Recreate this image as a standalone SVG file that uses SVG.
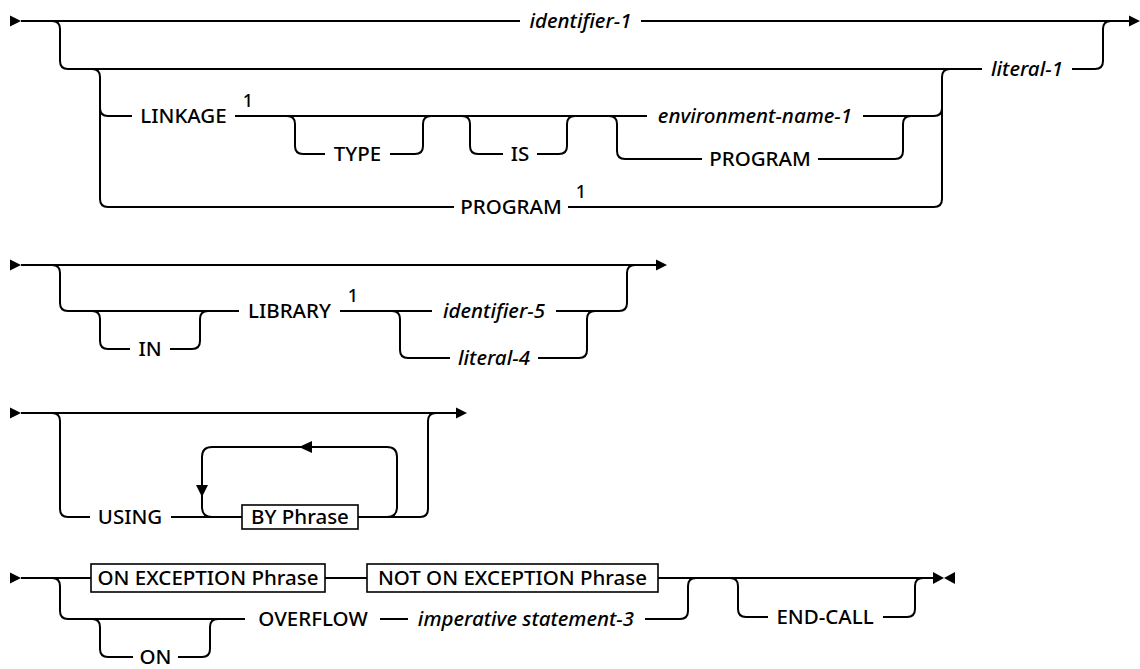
<svg xmlns="http://www.w3.org/2000/svg" width="1140" height="669" viewBox="0 0 1140 669">
<style>
.c{fill:none;stroke:#000;stroke-width:2}
.b{fill:#fff;stroke:#000;stroke-width:1.6}
.a{fill:#000;stroke:none}
text{font-family:"Noto Sans","Liberation Sans",sans-serif;font-size:20.5px;font-weight:500;fill:#000;text-anchor:middle}
.i{font-style:italic}
.s{font-size:18px}
</style>
<rect width="1140" height="669" fill="#fff"/>
<g id="connectors">
<!-- row 1 -->
<polygon class="a" points="10,15.5 21,21 10,26.5"/>
<path class="c" d="M21,21 H520 M641,21 H1130"/>
<polygon class="a" points="1129,15.5 1140,21 1129,26.5"/>
<path class="c" d="M52,21 Q60,21 60,29 V61 Q60,69 68,69 H982 M1072,69 H1095 Q1103,69 1103,61 V29 Q1103,21 1111,21"/>
<path class="c" d="M92,69 Q100,69 100,77 V199 Q100,207 108,207 H454 M568,207 H934 Q942,207 942,199 V77 Q942,69 950,69"/>
<path class="c" d="M100,108 Q100,116 108,116 H132 M235,116 H647 M863,116 H934 Q942,116 942,108"/>
<path class="c" d="M287,116 Q295,116 295,124 V146 Q295,154 303,154 H325 M390,154 H415 Q423,154 423,146 V124 Q423,116 431,116"/>
<path class="c" d="M462,116 Q470,116 470,124 V146 Q470,154 478,154 H503 M537,154 H559 Q567,154 567,146 V124 Q567,116 575,116"/>
<path class="c" d="M609,116 Q617,116 617,124 V151 Q617,159 625,159 H702 M818,159 H895 Q903,159 903,151 V124 Q903,116 911,116"/>
<!-- row 2 -->
<polygon class="a" points="10,259.5 21,265 10,270.5"/>
<path class="c" d="M21,265 H656"/>
<polygon class="a" points="656,259.5 667,265 656,270.5"/>
<path class="c" d="M52,265 Q60,265 60,273 V303 Q60,311 68,311 H239 M340,311 H432 M556,311 H619 Q627,311 627,303 V273 Q627,265 635,265"/>
<path class="c" d="M92,311 Q100,311 100,319 V341 Q100,349 108,349 H130 M170,349 H192 Q200,349 200,341 V319 Q200,311 208,311"/>
<path class="c" d="M392,311 Q400,311 400,319 V350 Q400,358 408,358 H450 M538,358 H579 Q587,358 587,350 V319 Q587,311 595,311"/>
<!-- row 3 -->
<polygon class="a" points="10,407.5 21,413 10,418.5"/>
<path class="c" d="M21,413 H456"/>
<polygon class="a" points="456,407.5 467,413 456,418.5"/>
<path class="c" d="M52,413 Q60,413 60,421 V509 Q60,517 68,517 H90 M171,517 H242 M358,517 H420 Q428,517 428,509 V421 Q428,413 436,413"/>
<path class="c" d="M387,517 Q397,517 397,507 V457 Q397,447 387,447 H212 Q202,447 202,457 V507 Q202,517 212,517"/>
<polygon class="a" points="312,441 312,453 299,447"/>
<polygon class="a" points="196,485 208,485 202,497"/>
<!-- row 4 -->
<polygon class="a" points="10,572.5 21,578 10,583.5"/>
<path class="c" d="M21,578 H91 M325,578 H367 M658,578 H933"/>
<polygon class="a" points="933,572 944,578 933,584"/>
<polygon class="a" points="955,572 944,578 955,584"/>
<path class="c" d="M52,578 Q60,578 60,586 V611 Q60,619 68,619 H245 M380,619 H408 M645,619 H680 Q688,619 688,611 V586 Q688,578 696,578"/>
<path class="c" d="M92,619 Q100,619 100,627 V649 Q100,657 108,657 H133 M178,657 H202 Q210,657 210,649 V627 Q210,619 218,619"/>
<path class="c" d="M730,578 Q738,578 738,586 V609 Q738,617 746,617 H768 M883,617 H907 Q915,617 915,609 V586 Q915,578 923,578"/>
</g>
<g id="identifier-1"><text class="i" x="580.5" y="28">identifier-1</text></g>
<g id="literal-1"><text class="i" x="1027" y="76">literal-1</text></g>
<g id="linkage"><text x="183.5" y="123">LINKAGE</text><text class="s" x="248" y="107">1</text></g>
<g id="type"><text x="357.5" y="161">TYPE</text></g>
<g id="is"><text x="520" y="161">IS</text></g>
<g id="environment-name-1"><text class="i" x="755" y="123">environment-name-1</text></g>
<g id="program-alt"><text x="760" y="166">PROGRAM</text></g>
<g id="program"><text x="511" y="214">PROGRAM</text><text class="s" x="581" y="198">1</text></g>
<g id="in"><text x="150" y="356">IN</text></g>
<g id="library"><text x="289.5" y="318">LIBRARY</text><text class="s" x="353" y="302">1</text></g>
<g id="identifier-5"><text class="i" x="494" y="318">identifier-5</text></g>
<g id="literal-4"><text class="i" x="494" y="365">literal-4</text></g>
<g id="using"><text x="130" y="524">USING</text></g>
<g id="by-phrase"><rect class="b" x="242" y="505" width="116" height="24"/><text x="300" y="524">BY Phrase</text></g>
<g id="on-exception"><rect class="b" x="91" y="564" width="234" height="28"/><text x="208" y="585">ON EXCEPTION Phrase</text></g>
<g id="not-on-exception"><rect class="b" x="367" y="564" width="291" height="28"/><text x="512.5" y="585">NOT ON EXCEPTION Phrase</text></g>
<g id="overflow"><text x="313" y="626">OVERFLOW</text></g>
<g id="imperative"><text class="i" x="526" y="626">imperative statement-3</text></g>
<g id="on"><text x="155.5" y="664">ON</text></g>
<g id="end-call"><text x="825" y="624">END-CALL</text></g>
</svg>
